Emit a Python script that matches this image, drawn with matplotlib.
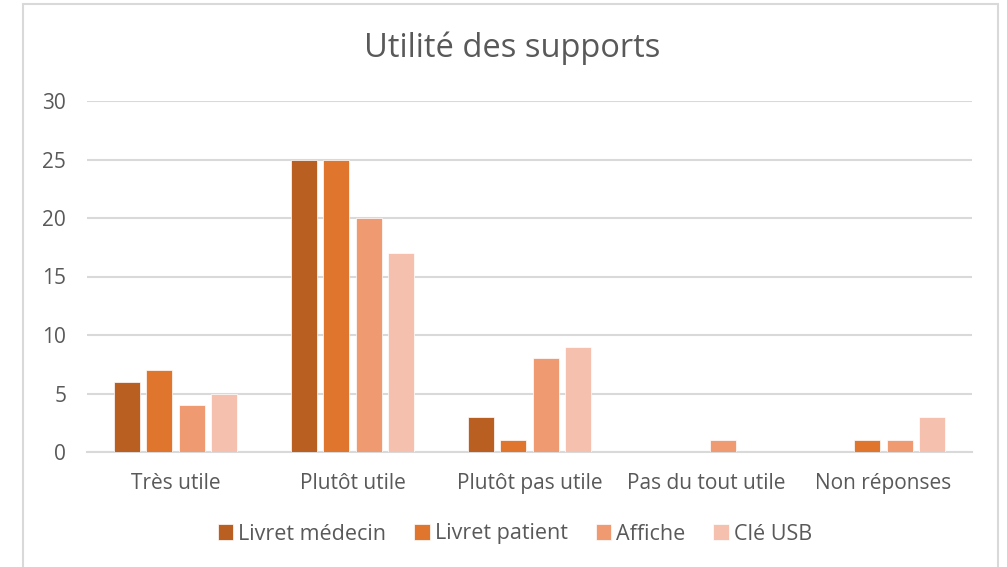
import matplotlib
matplotlib.use("Agg")
import matplotlib.pyplot as plt
from matplotlib.patches import Rectangle
import numpy as np

plt.rcParams['font.family'] = ['Open Sans', 'DejaVu Sans']

categories = ["Très utile", "Plutôt utile", "Plutôt pas utile", "Pas du tout utile", "Non réponses"]
series_names = ["Livret médecin", "Livret patient", "Affiche", "Clé USB"]
livret_medecin = [6, 25, 3, 0, 0]
livret_patient = [7, 25, 1, 0, 1]
affiche = [4, 20, 8, 1, 1]
cle_usb = [5, 17, 9, 0, 3]
values = [livret_medecin, livret_patient, affiche, cle_usb]
colors = ["#B95F22", "#E0752E", "#F09A72", "#F5C1AE"]
yticks = [0, 5, 10, 15, 20, 25, 30]

fig = plt.figure(figsize=(10.07, 5.67), dpi=100)
ax = fig.add_axes([87/1007, 1-452/567, (972-87)/1007, (452-101)/567])

x = np.arange(len(categories))
step = 0.181
width = 0.147
for i, (name, vals, c) in enumerate(zip(series_names, values, colors)):
    ax.bar(x + (i - 1.5) * step, vals, width, color=c, label=name, zorder=3,
           edgecolor='white', linewidth=0.5)

ax.set_xlim(-0.5, len(categories) - 0.5)
ax.set_ylim(0, 30)
ax.set_yticks(yticks)
ax.set_xticks(x)
ax.set_xticklabels(categories)
ax.yaxis.grid(True, color="#D9D9D9", linewidth=1.5, zorder=0)
ax.set_axisbelow(True)
for s in ["top", "right", "left"]:
    ax.spines[s].set_visible(False)
ax.spines["bottom"].set_color("#D9D9D9")
ax.spines["bottom"].set_linewidth(1.5)
ax.tick_params(axis='both', length=0, labelsize=15, colors="#595959")
ax.tick_params(axis='y', pad=15)
ax.tick_params(axis='x', pad=15)

fig.text(512/1007, 1-48/567, "Utilité des supports", ha='center', va='center',
         fontsize=23.5, color="#595959")

leg = fig.legend(loc='center', bbox_to_anchor=(515/1007, 1-534/567), ncol=4,
                 frameon=False, fontsize=15.5, handlelength=0.7, handleheight=0.7,
                 handletextpad=0.25, columnspacing=1.3)
for t in leg.get_texts():
    t.set_color("#595959")

fig.patches.append(Rectangle((23/1007, -0.05), (998-23)/1007, 1.05 - 4/567,
                             transform=fig.transFigure, fill=False,
                             edgecolor="#D9D9D9", linewidth=1.5))

fig.savefig("out.png", dpi=100)
